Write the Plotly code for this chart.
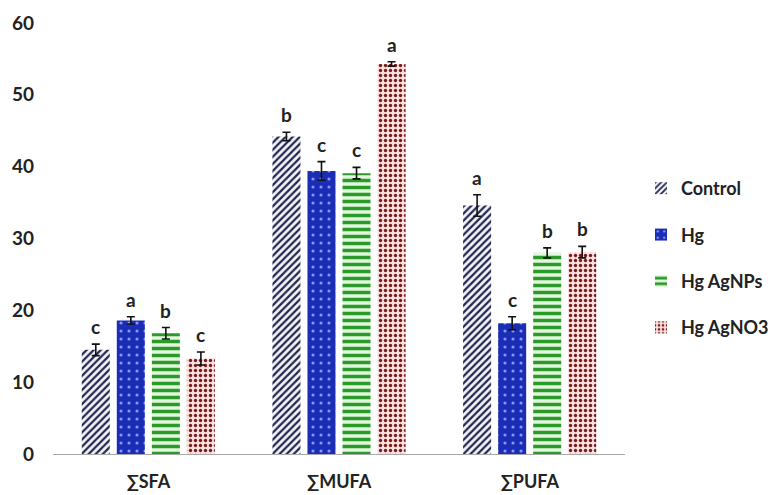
import plotly.graph_objects as go

categories = ["∑SFA", "∑MUFA", "∑PUFA"]
series_names = ["Control", "Hg", "Hg AgNPs", "Hg AgNO3"]
control = [14.5, 44.2, 34.6]
hg = [18.6, 39.4, 18.2]
hg_agnps = [16.8, 39.1, 28.0]
hg_agno3 = [13.3, 54.3, 28.1]
control_err = [0.8, 0.6, 1.5]
hg_err = [0.5, 1.3, 0.9]
hg_agnps_err = [0.8, 0.8, 0.7]
hg_agno3_err = [0.9, 0.3, 0.8]
control_letters = ["c", "b", "a"]
hg_letters = ["a", "c", "c"]
hg_agnps_letters = ["b", "c", "b"]
hg_agno3_letters = ["c", "a", "b"]

values = [control, hg, hg_agnps, hg_agno3]
errors = [control_err, hg_err, hg_agnps_err, hg_agno3_err]
letters = [control_letters, hg_letters, hg_agnps_letters, hg_agno3_letters]

patterns = [
    dict(shape="/", fgcolor="#23264f", bgcolor="#f4f4f8", size=5, solidity=0.45, fillmode="replace"),
    dict(shape=".", fgcolor="#8598ff", bgcolor="#1a2db4", size=8, solidity=0.12, fillmode="replace"),
    dict(shape="-", fgcolor="#2b9a2b", bgcolor="#e2f7dc", size=7, solidity=0.5, fillmode="replace"),
    dict(shape=".", fgcolor="#761a1a", bgcolor="#fbe0e0", size=5, solidity=0.35, fillmode="replace"),
]

bargap = 0.265
n = len(series_names)
fig = go.Figure()
for i, name in enumerate(series_names):
    fig.add_trace(go.Bar(
        x=list(range(len(categories))), y=values[i], name=name,
        legendgroup=name,
        marker=dict(color=patterns[i]["bgcolor"], pattern=patterns[i], line=dict(width=0)),
        error_y=dict(type="data", array=errors[i], color="#111111", thickness=1.6, width=4),
    ))

annotations = []
slot = (1 - bargap) / n
for i in range(n):
    for j in range(len(categories)):
        annotations.append(dict(
            x=j + (i - (n - 1) / 2) * slot,
            y=values[i][j] + errors[i][j],
            xref="x", yref="y", text=letters[i][j], showarrow=False,
            yanchor="bottom", yshift=4,
            font=dict(size=19, color="#222222", family="Lato", weight="bold"),
        ))

fig.update_layout(
    width=770, height=487,
    margin=dict(l=45, r=153, t=15, b=41, autoexpand=False),
    paper_bgcolor="white", plot_bgcolor="white",
    barmode="group", bargap=bargap, bargroupgap=0.2,
    font=dict(family="Lato", size=18, color="#222222", weight="bold"),
    showlegend=True,
    legend=dict(x=1.028, y=0.659, xanchor="left", yanchor="top",
                traceorder="grouped", tracegroupgap=20,
                font=dict(size=18, family="Lato", weight="bold", color="#222222"),
                itemwidth=30),
    annotations=annotations,
)
fig.update_xaxes(
    tickmode="array", tickvals=list(range(len(categories))), ticktext=categories,
    range=[-0.5, len(categories) - 0.5], automargin=False,
    showline=True, linecolor="#a8a8a8", linewidth=1, ticks="",
    showgrid=False, zeroline=False, ticklabelstandoff=11,
    tickfont=dict(size=18, family="Lato", weight="bold"),
)
fig.update_yaxes(
    range=[0, 60], tickvals=[0, 10, 20, 30, 40, 50, 60], automargin=False,
    showgrid=False, showline=False, zeroline=False, ticks="",
    ticklabelstandoff=18,
    tickfont=dict(size=19, family="Lato", weight="bold"),
)

fig.write_html("out.html")
